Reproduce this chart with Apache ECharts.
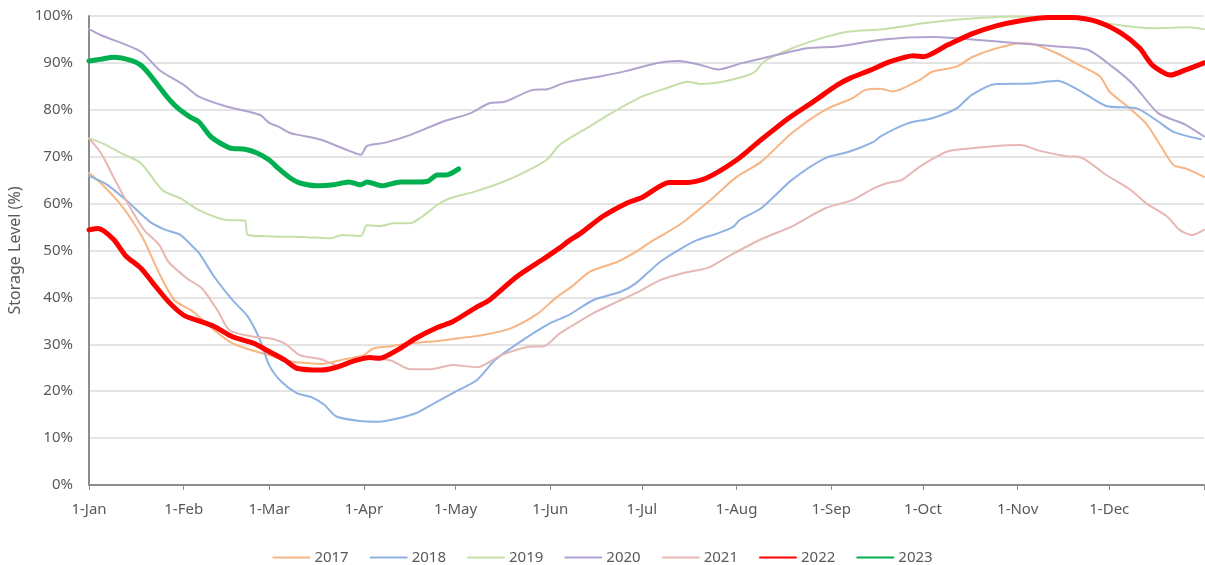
<!DOCTYPE html>
<html>
<head>
<meta charset="utf-8">
<script src="https://cdn.jsdelivr.net/npm/echarts@6/dist/echarts.min.js"></script>
<style>
  html, body { margin: 0; padding: 0; background: #fff; }
  #chart { width: 1205px; height: 565px; }
</style>
</head>
<body>
<div id="chart"></div>
<script>
// day-of-year where each month starts, and its label
const monthDays = [0, 31, 59, 90, 120, 151, 181, 212, 243, 273, 304, 334];
const monthLabels = ["1-Jan", "1-Feb", "1-Mar", "1-Apr", "1-May", "1-Jun",
  "1-Jul", "1-Aug", "1-Sep", "1-Oct", "1-Nov", "1-Dec"];

// [day of year, storage %]
const s2017 = [[0,66.5],[4,64.3],[10,60.1],[14,56.5],[18,52.2],[23,45.1],[28,39.4],[34,37],[41,33],[47,30.2],[55,28.4],[59,27.7],[64,26.5],[69,26.1],[76,25.8],[83,26.7],[90,27.7],[93,29.1],[99,29.6],[105,30.2],[114,30.7],[121,31.3],[129,32],[138,33.4],[147,36.6],[153,40],[158,42.3],[164,45.5],[173,47.6],[179,49.7],[184,51.9],[187,53],[194,55.8],[204,61.1],[212,65.7],[220,68.9],[230,75],[241,80],[250,82.5],[254,84.2],[259,84.5],[263,83.9],[272,86.4],[276,88.1],[284,89.2],[289,91.2],[297,93.1],[305,94.2],[309,94],[317,92],[324,89.6],[331,87.1],[334,83.9],[340,80.7],[346,77.1],[350,73.2],[355,68.2],[359,67.5],[365,65.7]];
const s2018 = [[0,65.9],[6,64],[12,60.8],[20,56.1],[25,54.4],[30,53.3],[34,50.8],[36,49.5],[41,44.4],[47,39.4],[52,35.9],[56,30.9],[59,25.5],[63,22],[68,19.6],[73,18.7],[77,17.1],[81,14.6],[88,13.7],[95,13.5],[101,14.2],[107,15.3],[114,17.8],[120,19.9],[127,22.4],[133,26.7],[142,30.9],[151,34.5],[157,36.2],[165,39.4],[174,41.2],[179,43],[187,47.6],[193,50.1],[199,52.2],[206,53.7],[211,55.1],[213,56.5],[220,59],[230,65],[241,69.7],[249,71.1],[257,73.2],[259,74.3],[268,77.1],[276,78.2],[284,80.3],[289,83.2],[297,85.5],[308,85.6],[317,86.2],[324,84.2],[333,80.8],[343,80.3],[350,77.5],[355,75.3],[364,73.7]];
const s2019 = [[0,73.9],[5,72.7],[11,70.6],[17,68.6],[24,62.9],[30,61.1],[36,58.6],[45,56.5],[51,56.4],[52,53.3],[60,53],[70,52.9],[79,52.6],[83,53.3],[89,53.1],[91,55.4],[95,55.2],[100,55.8],[105,55.8],[109,57.2],[114,59.7],[118,61.1],[126,62.5],[135,64.5],[142,66.5],[150,69.4],[154,72.5],[163,76.1],[171,79.3],[181,82.8],[189,84.6],[196,86],[200,85.5],[206,85.8],[215,87.2],[218,88.1],[221,90.3],[230,93.1],[241,95.5],[249,96.7],[260,97.2],[275,98.6],[288,99.4],[302,99.9],[324,99.3],[337,98.1],[348,97.4],[360,97.6],[365,97.2]];
const s2020 = [[0,97.2],[4,95.9],[17,92.4],[23,88.5],[31,85.3],[36,82.8],[45,80.7],[56,78.9],[59,77.2],[62,76.4],[66,75],[69,74.6],[76,73.6],[85,71.3],[89,70.4],[91,72.3],[97,73],[105,74.6],[116,77.5],[125,79.3],[131,81.4],[136,81.7],[145,84.2],[150,84.4],[156,85.8],[168,87.2],[176,88.3],[186,90],[193,90.4],[200,89.6],[206,88.6],[214,90],[222,91.2],[235,93.1],[245,93.5],[260,95],[276,95.5],[289,95],[302,94.3],[317,93.5],[327,92.8],[335,89.2],[342,85.3],[350,79.3],[359,76.8],[365,74.3]];
const s2021 = [[0,73.9],[4,70.7],[8,65.7],[12,60.8],[18,54.4],[23,51.2],[26,47.6],[32,44.1],[37,41.9],[42,37.3],[46,33],[54,31.6],[59,31.3],[64,30.2],[69,27.7],[76,26.8],[81,25.6],[89,27],[99,26.5],[105,24.7],[112,24.7],[119,25.6],[127,25.1],[135,27.7],[144,29.5],[149,29.6],[154,32.3],[158,33.9],[165,36.6],[173,39.1],[179,40.9],[187,43.7],[194,45.1],[203,46.4],[210,49],[220,52.4],[230,55.1],[241,59],[250,60.8],[257,63.3],[262,64.5],[266,65],[272,67.9],[281,71.1],[289,71.8],[297,72.3],[305,72.5],[311,71.3],[320,70.1],[324,70],[333,66.1],[341,62.9],[346,60.1],[353,57.2],[357,54.4],[361,53.3],[365,54.4]];
const s2022 = [[0,54.4],[3,54.7],[8,52.4],[12,48.9],[17,46.2],[21,43],[26,39.1],[31,36.2],[35,35.2],[41,33.8],[47,31.6],[54,30.2],[58,28.8],[64,26.7],[68,24.9],[76,24.5],[81,25.1],[87,26.5],[92,27.2],[95,27],[101,28.8],[107,31.3],[114,33.6],[119,34.8],[127,38],[131,39.4],[140,44.4],[149,48.3],[154,50.5],[157,52],[161,53.7],[168,57.2],[176,60.1],[181,61.3],[190,64.5],[196,64.5],[202,65.4],[212,69.3],[220,73.6],[229,78.2],[237,81.7],[245,85.3],[249,86.7],[256,88.5],[262,90.2],[270,91.5],[273,91.3],[281,93.8],[289,96.2],[297,97.9],[305,99],[314,99.7],[322,99.7],[330,98.8],[338,96.3],[344,93.1],[348,89.6],[354,87.4],[359,88.5],[365,90]];
const s2023 = [[0,90.4],[4,90.8],[8,91.2],[14,90.5],[17,89.5],[20,87.4],[25,83.2],[29,80.4],[33,78.5],[36,77.4],[40,74.2],[46,71.9],[51,71.6],[55,70.8],[59,69.3],[62,67.5],[66,65.4],[69,64.4],[75,63.8],[80,64],[85,64.6],[89,64],[91,64.6],[96,63.8],[102,64.6],[108,64.6],[111,64.8],[114,66.1],[117,66.1],[121,67.4]];

const years = ["2017", "2018", "2019", "2020", "2021", "2022", "2023"];
const yearData = [s2017, s2018, s2019, s2020, s2021, s2022, s2023];
const colors = ["#F8B584", "#8DB2E3", "#C6DFA8", "#B2A2CF", "#E7B7B4", "#FF0000", "#00B050"];
const widths = [2, 2, 2, 2, 2, 5, 5];

const labelColor = "#595959";
const fontFamily = "'Noto Sans', sans-serif";

const chart = echarts.init(document.getElementById("chart"));

chart.setOption({
  animation: false,
  color: colors,
  grid: {
    left: 89,
    right: 1,
    top: 16,
    bottom: 80,
    outerBoundsMode: "none"
  },
  legend: {
    left: "center",
    top: 545,
    itemWidth: 36,
    itemHeight: 14,
    itemGap: 21,
    itemStyle: { opacity: 0 },
    textStyle: {
      color: labelColor,
      fontSize: 15,
      fontFamily: fontFamily
    },
    data: years
  },
  xAxis: {
    type: "value",
    min: 0,
    max: 365,
    axisLine: {
      lineStyle: { color: "#8c8c8c", width: 2 }
    },
    axisTick: {
      show: true,
      length: 5,
      customValues: monthDays.concat([365]),
      lineStyle: { color: "#8c8c8c" }
    },
    axisLabel: {
      customValues: monthDays,
      margin: 17,
      color: labelColor,
      fontSize: 15,
      fontFamily: fontFamily,
      formatter: function (v) {
        return monthLabels[monthDays.indexOf(v)];
      }
    },
    splitLine: { show: false }
  },
  yAxis: {
    type: "value",
    min: 0,
    max: 100,
    interval: 10,
    name: "Storage Level (%)",
    nameLocation: "middle",
    nameGap: 62,
    nameTextStyle: {
      color: labelColor,
      fontSize: 16,
      fontFamily: fontFamily
    },
    axisLine: {
      show: true,
      lineStyle: { color: "#8c8c8c", width: 2 }
    },
    axisTick: { show: false },
    axisLabel: {
      margin: 16,
      color: labelColor,
      fontSize: 15,
      fontFamily: fontFamily,
      formatter: "{value}%"
    },
    splitLine: {
      lineStyle: { color: "#e4e4e4", width: 2 }
    }
  },
  series: years.map(function (y, i) {
    return {
      name: y,
      type: "line",
      symbol: "none",
      smooth: 0.25,
      lineStyle: {
        color: colors[i],
        width: widths[i],
        cap: "round",
        join: "round"
      },
      data: yearData[i]
    };
  })
});
</script>
</body>
</html>
